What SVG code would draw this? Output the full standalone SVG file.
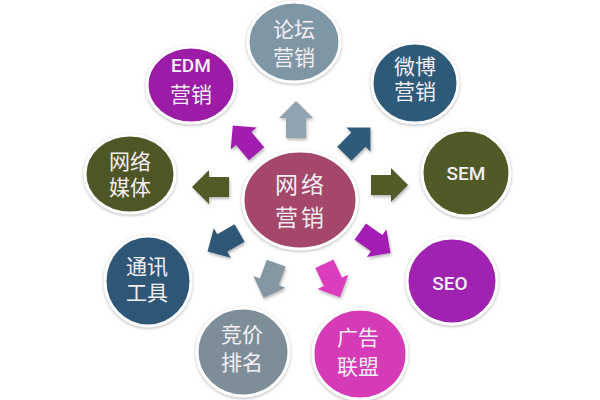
<svg xmlns="http://www.w3.org/2000/svg" width="600" height="400" viewBox="0 0 600 400">
<defs>
<filter id="sh" x="-20%" y="-20%" width="140%" height="140%">
<feDropShadow dx="0" dy="1" stdDeviation="1.5" flood-color="#999" flood-opacity="0.7"/>
</filter>
<filter id="ash" x="-30%" y="-30%" width="160%" height="160%">
<feDropShadow dx="1" dy="2" stdDeviation="1.5" flood-color="#888" flood-opacity="0.6"/>
</filter>
<polygon id="arr" points="-18,-10 2,-10 2,-17 19,0 2,17 2,10 -18,10"/>
</defs>
<style>
.n{stroke:#fff;stroke-width:3;filter:url(#sh)}
.t{font-family:"Liberation Sans","Noto Sans CJK SC",sans-serif;fill:#F3EEF3;text-anchor:middle;font-size:21px}
.c{font-size:23px;letter-spacing:3px}
.l{font-family:Roboto,"Liberation Sans",sans-serif;font-size:19px;font-weight:500}
</style>
<rect width="600" height="400" fill="#fff"/>
<g id="connectors" filter="url(#ash)">
<use href="#arr" fill="#8FA3B0" transform="translate(296,120) rotate(-90)"/>
<use href="#arr" fill="#A21FB0" transform="translate(245,140) rotate(-130)"/>
<use href="#arr" fill="#2E5A7B" transform="translate(357,141) rotate(-45)"/>
<use href="#arr" fill="#525A26" transform="translate(389,185) rotate(0)"/>
<use href="#arr" fill="#A41FB4" transform="translate(375,242) rotate(35)"/>
<use href="#arr" fill="#DC3CBE" transform="translate(332,280) rotate(65)"/>
<use href="#arr" fill="#8597A3" transform="translate(270,280) rotate(110)"/>
<use href="#arr" fill="#2E5677" transform="translate(224,242) rotate(150)"/>
<use href="#arr" fill="#525A26" transform="translate(211,187) rotate(180)"/>
</g>
<g id="center">
<ellipse class="n" cx="300" cy="200" rx="57" ry="49" fill="#A4466B"/>
<text class="t c" x="301" y="193">网络</text>
<text class="t c" x="301" y="226">营销</text>
</g>
<g id="luntan">
<ellipse class="n" cx="294" cy="42" rx="46" ry="40" fill="#7F96A5"/>
<text class="t" x="294" y="37">论坛</text>
<text class="t" x="294" y="65">营销</text>
</g>
<g id="edm">
<ellipse class="n" cx="191" cy="85" rx="44" ry="38" fill="#9C1FA8"/>
<text class="t l" x="191" y="72">EDM</text>
<text class="t" x="191" y="102">营销</text>
</g>
<g id="weibo">
<ellipse class="n" cx="415" cy="83" rx="43" ry="40" fill="#2E5A7A"/>
<text class="t" x="415" y="74">微博</text>
<text class="t" x="415" y="99">营销</text>
</g>
<g id="sem">
<ellipse class="n" cx="466" cy="173" rx="44" ry="43" fill="#4F5A25"/>
<text class="t l" x="466" y="180">SEM</text>
</g>
<g id="seo">
<ellipse class="n" cx="452" cy="281" rx="45" ry="43" fill="#A020B0"/>
<text class="t l" x="450" y="290">SEO</text>
</g>
<g id="guanggao">
<ellipse class="n" cx="360" cy="354" rx="47" ry="45" fill="#D53AB7"/>
<text class="t" x="358" y="345">广告</text>
<text class="t" x="358" y="374">联盟</text>
</g>
<g id="jingjia">
<ellipse class="n" cx="243" cy="352" rx="46" ry="44" fill="#7D8E99"/>
<text class="t" x="242" y="342">竞价</text>
<text class="t" x="242" y="370">排名</text>
</g>
<g id="tongxun">
<ellipse class="n" cx="148" cy="281" rx="43" ry="45" fill="#2F5677"/>
<text class="t" x="147" y="274">通讯</text>
<text class="t" x="147" y="300">工具</text>
</g>
<g id="meiti">
<ellipse class="n" cx="130" cy="174" rx="45" ry="39" fill="#505626"/>
<text class="t" x="130" y="169">网络</text>
<text class="t" x="130" y="195">媒体</text>
</g>
</svg>
